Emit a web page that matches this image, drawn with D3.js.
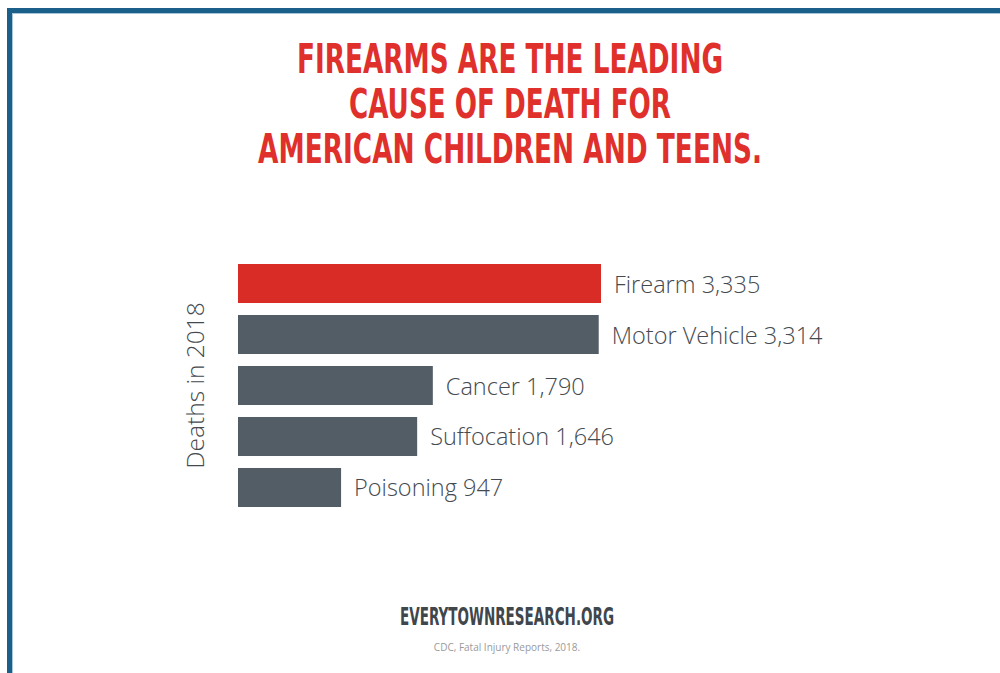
<!DOCTYPE html>
<html>
<head>
<meta charset="utf-8">
<script src="https://cdn.jsdelivr.net/npm/d3@7"></script>
<style>
  html, body { margin: 0; padding: 0; background: #fff; }
  svg { display: block; }
</style>
</head>
<body>
<svg id="chart" width="1000" height="673"></svg>
<script>
const titleLines = ["FIREARMS ARE THE LEADING", "CAUSE OF DEATH FOR", "AMERICAN CHILDREN AND TEENS."];
const categories = ["Firearm", "Motor Vehicle", "Cancer", "Suffocation", "Poisoning"];
const values = [3335, 3314, 1790, 1646, 947];
const highlight = ["Firearm"];
const axisLabel = "Deaths in 2018";
const footerSite = "EVERYTOWNRESEARCH.ORG";
const footerSource = "CDC, Fatal Injury Reports, 2018.";

const svg = d3.select("#chart");
const W = 1000, H = 673;

// frame
svg.append("rect").attr("x", 7).attr("y", 8).attr("width", W - 7).attr("height", 5).attr("fill", "#1b5f8b");
svg.append("rect").attr("x", 7).attr("y", 8).attr("width", 5).attr("height", H - 8).attr("fill", "#1b5f8b");
svg.append("rect").attr("x", 12).attr("y", 13).attr("width", W - 12).attr("height", 1).attr("fill", "#a9c6da");
svg.append("rect").attr("x", 12).attr("y", 13).attr("width", 1).attr("height", H - 13).attr("fill", "#a9c6da");

// title
const titleWidths = [426, 322, 504];
svg.append("g").selectAll("text").data(titleLines).join("text")
  .attr("x", 510)
  .attr("y", (d, i) => 73 + i * 45)
  .attr("text-anchor", "middle")
  .attr("font-family", "'Liberation Sans Narrow', 'DejaVu Sans Condensed', 'Roboto', sans-serif")
  .attr("font-weight", "bold")
  .attr("font-size", 41)
  .attr("fill", "#e0302b")
  .attr("textLength", (d, i) => titleWidths[i])
  .attr("lengthAdjust", "spacingAndGlyphs")
  .text(d => d);

// scales
const x0 = 238;
const x = d3.scaleLinear().domain([0, d3.max(values)]).range([x0, 601]);
const y = d3.scaleBand().domain(categories).range([264, 507]).paddingInner(0.235).paddingOuter(0);

const data = categories.map((c, i) => ({ c, v: values[i] }));

svg.append("g").selectAll("rect").data(data).join("rect")
  .attr("x", x(0))
  .attr("y", d => y(d.c))
  .attr("width", d => x(d.v) - x(0))
  .attr("height", y.bandwidth())
  .attr("fill", d => highlight.includes(d.c) ? "#da2c27" : "#535d66");

const fmt = d3.format(",");
svg.append("g").selectAll("text").data(data).join("text")
  .attr("x", d => x(d.v) + 13)
  .attr("y", d => y(d.c) + y.bandwidth() / 2 + 9)
  .attr("font-family", "'Open Sans', sans-serif")
  .attr("font-weight", 300)
  .attr("font-size", 23.5)
  .attr("fill", "#444a50")
  .text(d => d.c + " " + fmt(d.v));

// y label
svg.append("text")
  .attr("transform", `translate(204, ${(264 + 507) / 2}) rotate(-90)`)
  .attr("text-anchor", "middle")
  .attr("font-family", "'Open Sans', sans-serif")
  .attr("font-weight", 300)
  .attr("font-size", 24.5)
  .attr("fill", "#444a50")
  .text(axisLabel);

// footer
svg.append("text")
  .attr("x", 507).attr("y", 625)
  .attr("text-anchor", "middle")
  .attr("font-family", "'Liberation Sans Narrow', 'DejaVu Sans Condensed', 'Roboto', sans-serif")
  .attr("font-weight", "bold")
  .attr("font-size", 24)
  .attr("fill", "#3f464c")
  .attr("textLength", 214)
  .attr("lengthAdjust", "spacingAndGlyphs")
  .text(footerSite);

svg.append("text")
  .attr("x", 507).attr("y", 651)
  .attr("text-anchor", "middle")
  .attr("font-family", "'Open Sans', sans-serif")
  .attr("font-size", 10)
  .attr("fill", "#9a9a9a")
  .text(footerSource);
</script>
</body>
</html>
